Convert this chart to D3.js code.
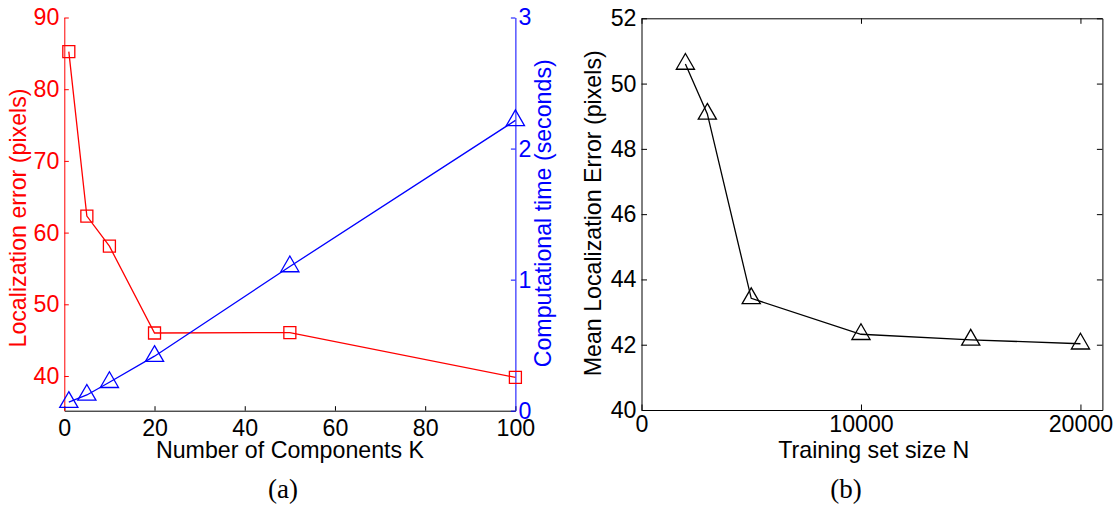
<!DOCTYPE html>
<html>
<head>
<meta charset="utf-8">
<script src="https://cdn.jsdelivr.net/npm/d3@7"></script>
<style>
  html, body { margin: 0; padding: 0; background: #fff; }
  svg { display: block; }
  text { font-family: "Liberation Sans", Arial, Helvetica, sans-serif; }
</style>
</head>
<body>
<svg id="chart" width="1117" height="509"></svg>
<script>
// ---------- data ----------
const kValues = [1, 5, 10, 20, 50, 100];
const locError = [85.25, 62.3, 58.1, 46.0, 46.05, 39.8];
const compTime = [0.065, 0.12, 0.217, 0.416, 1.10, 2.215];

const nValues = [2000, 3000, 5000, 10000, 15000, 20000];
const meanLocError = [50.6, 49.07, 43.42, 42.32, 42.15, 42.03];

const aXTicks = [0, 20, 40, 60, 80, 100];
const aLeftTicks = [40, 50, 60, 70, 80, 90];
const aRightTicks = [0, 1, 2, 3];
const bXTicks = [0, 10000, 20000];
const bYTicks = [40, 42, 44, 46, 48, 50, 52];

const labels = {
  aX: "Number of Components K",
  aLeft: "Localization error (pixels)",
  aRight: "Computational time (seconds)",
  bX: "Training set size N",
  bY: "Mean Localization Error (pixels)",
  capA: "(a)",
  capB: "(b)"
};

// ---------- setup ----------
const svg = d3.select("#chart");
const FS = 23.2;
const RED = "#ff0000", BLUE = "#0000ff", BLACK = "#000000";
const fmt = d3.format("d");

// Panel (a) scales
const xA = d3.scaleLinear().domain([0, 100]).range([64.3, 515.4]);
const yA = d3.scaleLinear().domain([35.16, 90]).range([410.7, 17.5]);
const yT = d3.scaleLinear().domain([0, 3]).range([410.7, 17.5]);

// Panel (b) scales
const xB = d3.scaleLinear().domain([0, 21000]).range([641.5, 1102.4]);
const yB = d3.scaleLinear().domain([40, 52]).range([410, 18.3]);

function styleAxis(g, color) {
  g.selectAll("path.domain").attr("stroke", color).attr("stroke-width", 1);
  g.selectAll(".tick line").attr("stroke", color).attr("stroke-width", 1);
  g.selectAll(".tick text").attr("fill", color)
    .style("font-family", '"Liberation Sans", Arial, Helvetica, sans-serif')
    .style("font-size", FS + "px");
  g.attr("font-family", null).attr("font-size", null);
}

const triSym = d3.symbol().type(d3.symbolTriangle).size(143);
const sqSym = d3.symbol().type(d3.symbolSquare).size(144);

// ---------- Panel (a) ----------
const gA = svg.append("g");

// bottom axis
gA.append("g").attr("transform", `translate(0,${yA.range()[0]})`)
  .call(d3.axisBottom(xA).tickValues(aXTicks).tickFormat(fmt).tickSizeInner(-4.5).tickSizeOuter(0).tickPadding(8.5))
  .call(g => styleAxis(g, BLACK));

// left red axis
gA.append("g").attr("transform", `translate(${xA.range()[0]},0)`)
  .call(d3.axisLeft(yA).tickValues(aLeftTicks).tickFormat(fmt).tickSizeInner(-4.5).tickSizeOuter(0).tickPadding(5))
  .call(g => styleAxis(g, RED));

// right blue axis
gA.append("g").attr("transform", `translate(${xA.range()[1]},0)`)
  .call(d3.axisRight(yT).tickValues(aRightTicks).tickFormat(fmt).tickSizeInner(-4.5).tickSizeOuter(0).tickPadding(3))
  .call(g => styleAxis(g, BLUE));

// red line + squares
const redData = kValues.map((k, i) => [k, locError[i]]);
gA.append("path").datum(redData)
  .attr("fill", "none").attr("stroke", RED).attr("stroke-width", 1.3)
  .attr("d", d3.line().x(d => xA(d[0])).y(d => yA(d[1])));
gA.selectAll(".sq").data(redData).join("path")
  .attr("transform", d => `translate(${xA(d[0])},${yA(d[1])})`)
  .attr("d", sqSym).attr("fill", "none").attr("stroke", RED).attr("stroke-width", 1.3);

// blue line + triangles
const blueData = kValues.map((k, i) => [k, compTime[i]]);
gA.append("path").datum(blueData)
  .attr("fill", "none").attr("stroke", BLUE).attr("stroke-width", 1.3)
  .attr("d", d3.line().x(d => xA(d[0])).y(d => yT(d[1])));
gA.selectAll(".tri").data(blueData).join("path")
  .attr("transform", d => `translate(${xA(d[0])},${yT(d[1])})`)
  .attr("d", triSym).attr("fill", "none").attr("stroke", BLUE).attr("stroke-width", 1.3);

// labels (a)
gA.append("text").attr("x", 290).attr("y", 458).attr("text-anchor", "middle")
  .style("font-size", FS + "px").attr("fill", BLACK).text(labels.aX);
gA.append("text").attr("transform", "translate(26,218) rotate(-90)").attr("text-anchor", "middle")
  .style("font-size", FS + "px").attr("fill", RED).text(labels.aLeft);
gA.append("text").attr("transform", "translate(551,213.3) rotate(-90)").attr("text-anchor", "middle")
  .style("font-size", FS + "px").attr("fill", BLUE).text(labels.aRight);
gA.append("text").attr("x", 283).attr("y", 498).attr("text-anchor", "middle")
  .style("font-family", '"Liberation Serif", "Times New Roman", serif').style("font-size", "27px")
  .attr("fill", BLACK).text(labels.capA);

// ---------- Panel (b) ----------
const gB = svg.append("g");
const [bx0, bx1] = xB.range();
const [by0, by1] = yB.range();

gB.append("g").attr("transform", `translate(0,${by0})`)
  .call(d3.axisBottom(xB).tickValues(bXTicks).tickFormat(fmt).tickSizeInner(-5.5).tickSizeOuter(0).tickPadding(5.5))
  .call(g => styleAxis(g, BLACK));
gB.append("g").attr("transform", `translate(0,${by1})`)
  .call(d3.axisTop(xB).tickValues(bXTicks).tickSizeInner(-5.5).tickSizeOuter(0).tickFormat(""))
  .call(g => styleAxis(g, BLACK));
gB.append("g").attr("transform", `translate(${bx0},0)`)
  .call(d3.axisLeft(yB).tickValues(bYTicks).tickFormat(fmt).tickSizeInner(-5.5).tickSizeOuter(0).tickPadding(5))
  .call(g => styleAxis(g, BLACK));
gB.append("g").attr("transform", `translate(${bx1},0)`)
  .call(d3.axisRight(yB).tickValues(bYTicks).tickSizeInner(-5.5).tickSizeOuter(0).tickFormat(""))
  .call(g => styleAxis(g, BLACK));

const blackData = nValues.map((n, i) => [n, meanLocError[i]]);
gB.append("path").datum(blackData)
  .attr("fill", "none").attr("stroke", BLACK).attr("stroke-width", 1.3)
  .attr("d", d3.line().x(d => xB(d[0])).y(d => yB(d[1])));
gB.selectAll(".tri").data(blackData).join("path")
  .attr("transform", d => `translate(${xB(d[0])},${yB(d[1])})`)
  .attr("d", triSym).attr("fill", "none").attr("stroke", BLACK).attr("stroke-width", 1.3);

gB.append("text").attr("x", 873.8).attr("y", 458).attr("text-anchor", "middle")
  .style("font-size", FS + "px").attr("fill", BLACK).text(labels.bX);
gB.append("text").attr("transform", "translate(601,213.3) rotate(-90)").attr("text-anchor", "middle")
  .style("font-size", FS + "px").attr("fill", BLACK).text(labels.bY);
gB.append("text").attr("x", 846).attr("y", 498).attr("text-anchor", "middle")
  .style("font-family", '"Liberation Serif", "Times New Roman", serif').style("font-size", "27px")
  .attr("fill", BLACK).text(labels.capB);
</script>
</body>
</html>
